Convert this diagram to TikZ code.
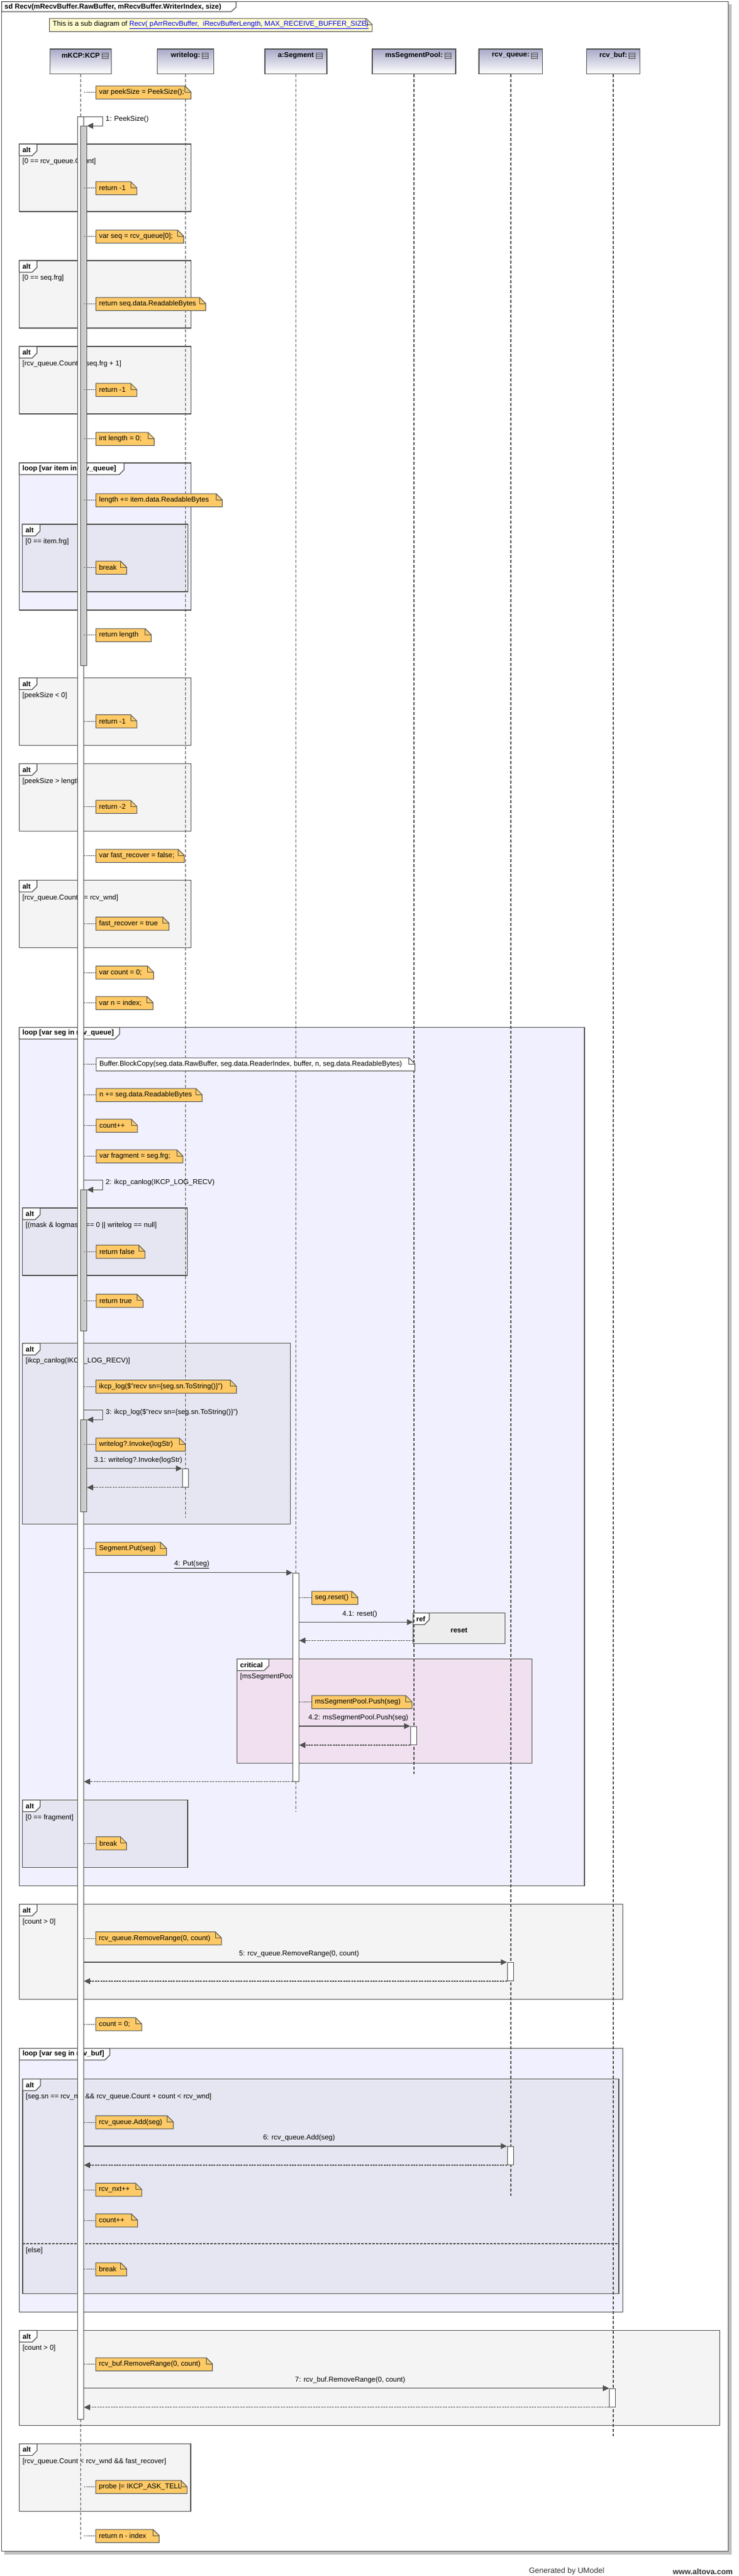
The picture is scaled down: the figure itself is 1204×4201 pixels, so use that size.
\documentclass[tikz,border=0pt]{standalone}
\usepackage{fontspec}
\setmainfont{Liberation Sans}
\usetikzlibrary{arrows.meta,calc,fit}

\definecolor{umlline}{HTML}{505050}
\definecolor{altfill}{HTML}{F4F4F4}
\definecolor{loopfill}{HTML}{F0F0FF}
\definecolor{innerfill}{HTML}{E6E6F2}
\definecolor{critfill}{HTML}{F0E0F0}
\definecolor{reffill}{HTML}{EDEDED}
\definecolor{notefill}{HTML}{FFC966}
\definecolor{hintfill}{HTML}{FFFBCC}
\definecolor{headtop}{HTML}{A9A9C9}
\definecolor{bargray}{HTML}{CCCCCC}
\definecolor{shadowgray}{HTML}{C0C0C0}
\definecolor{linkblue}{HTML}{0000FF}

\newcommand{\umlfont}{\fontsize{8.6pt}{10pt}\selectfont}

\tikzset{
  fragline/.style={draw=umlline, line width=0.9pt},
  tabtext/.style={font=\umlfont\bfseries, anchor=west, inner sep=0pt},
  guard/.style={anchor=west, inner sep=0pt},
  head/.style={draw=umlline, line width=0.9pt, top color=headtop, bottom color=white, minimum height=30.2pt, inner sep=0pt},
  headtext/.style={font=\umlfont\bfseries, inner sep=0pt},
  lifeline/.style={draw=umlline, line width=1.3pt, dash pattern=on 4pt off 2pt},
  bar/.style={draw=umlline, line width=0.75pt, fill=white, inner sep=0pt},
  bargrey/.style={bar, fill=bargray},
  notebody/.style={draw=umlline, line width=0.75pt},
  notetext/.style={anchor=west, inner xsep=3.75pt, inner ysep=0pt},
  noteline/.style={draw=umlline, line width=0.6pt, dash pattern=on 2pt off 0.8pt},
  msg/.style={draw=umlline, line width=0.9pt, -{Triangle[length=7.5pt,width=7pt]}},
  ret/.style={msg, dash pattern=on 2.2pt off 1.1pt},
  msglabel/.style={inner sep=0pt, yshift=10pt, xshift=4.5pt},
  selflabel/.style={anchor=west, inner sep=0pt, xshift=3.5pt, yshift=-3.3pt}
}

% box, tab and tab label of a combined fragment
\newcommand{\umlframe}[8]{%
  \filldraw[fragline, fill=#2] (#3,#4) rectangle (#5,#6);
  \filldraw[fragline, fill=white] (#3,#4) -- (#7,#4) -- (#7,{#4+11}) -- ({#7-8},{#4+19}) -- (#3,{#4+19}) -- cycle;
  \node[tabtext] (#1) at ({#3+5},{#4+9.5}) {#8};
}

% note with folded corner
\newcommand{\umlnote}[6][notefill]{%
  \filldraw[notebody, fill=#1] (#3,#4) -- ({#5-10},#4) -- (#5,{#4+10}) -- (#5,{#4+21.5}) -- (#3,{#4+21.5}) -- cycle;
  \draw[notebody] ({#5-10},#4) |- (#5,{#4+10});
  \node[notetext] (#2) at (#3,{#4+10.75}) {#6};
}

\begin{document}
\begin{tikzpicture}[x=0.75pt, y=-0.75pt, font=\umlfont]
\useasboundingbox (0,0) rectangle (1204,4201);

\fill[shadowgray] (7,7) rectangle (1193,4166);
\filldraw[fragline, fill=white] (2.7,2.7) rectangle (1187.3,4160.2);
\filldraw[fragline, fill=white] (2.7,2.7) -- (385,2.7) -- (385,11.5) -- (377,19) -- (2.7,19) -- cycle;
\node[tabtext] (title) at (7.2,11.3) {sd Recv(mRecvBuffer.RawBuffer, mRecvBuffer.WriterIndex, size)};

\umlnote[hintfill]{hint}{80.6}{30}{606.8}{This is a sub diagram of {\color{linkblue}\underline{Recv(\ pArrRecvBuffer,\ \ iRecvBufferLength, MAX\_RECEIVE\_BUFFER\_SIZE)}}}

\umlframe{a1}{altfill}{31.3}{235}{311.7}{345}{60.3}{alt}
\node[guard] (g1) at (36.3,264) {[0 == rcv\_queue.Count]};
\umlframe{a2}{altfill}{31.3}{425}{311.7}{535}{60.3}{alt}
\node[guard] (g2) at (36.3,454) {[0 == seq.frg]};
\umlframe{a3}{altfill}{31.3}{565}{311.7}{675}{60.3}{alt}
\node[guard] (g3) at (36.3,594) {[rcv\_queue.Count < seq.frg + 1]};
\umlframe{l1}{loopfill}{31.3}{755}{311.7}{995}{202.3}{loop [var item in rcv\_queue]}
\umlframe{a4}{innerfill}{36.3}{855}{306.7}{965}{65.3}{alt}
\node[guard] (g4) at (41.3,884) {[0 == item.frg]};
\umlframe{a5}{altfill}{31.3}{1105.5}{311.7}{1215.4}{60.3}{alt}
\node[guard] (g5) at (36.3,1134.5) {[peekSize < 0]};
\umlframe{a6}{altfill}{31.3}{1245.4}{311.7}{1355.3}{60.3}{alt}
\node[guard] (g6) at (36.3,1274.4) {[peekSize > length]};
\umlframe{a7}{altfill}{31.3}{1435.6}{311.7}{1545.4}{60.3}{alt}
\node[guard] (g7) at (36.3,1464.6) {[rcv\_queue.Count >= rcv\_wnd]};
\umlframe{l2}{loopfill}{31.3}{1675.4}{953}{3075.4}{195}{loop [var seg in rcv\_queue]}
\umlframe{a8}{innerfill}{36.7}{1970}{305.6}{2080}{65.5}{alt}
\node[guard] (g8) at (41.7,1999) {[(mask \& logmask) == 0 || writelog == null]};
\umlframe{a9}{innerfill}{36.7}{2190.7}{473.7}{2485.3}{65.5}{alt}
\node[guard] (g9) at (41.7,2219.7) {[ikcp\_canlog(IKCP\_LOG\_RECV)]};
\umlframe{r1}{reffill}{673.6}{2630.4}{823.6}{2680.4}{700}{ref}
\node[headtext] (reset) at (748.6,2659) {reset};
\coordinate (refin) at (673.6,2645.4);
\coordinate (refout) at (673.6,2675.4);
\umlframe{c1}{critfill}{386.4}{2705.4}{867.7}{2875.4}{438.5}{critical}
\node[guard] (gc1) at (391.4,2734.4) {[msSegmentPool]};
\umlframe{a10}{innerfill}{36.7}{2935.4}{306}{3045.4}{65.5}{alt}
\node[guard] (g10) at (41.7,2964.4) {[0 == fragment]};
\umlframe{a11}{altfill}{31.5}{3105.4}{1015.4}{3260.4}{60.5}{alt}
\node[guard] (g11) at (36.5,3134.4) {[count > 0]};
\umlframe{l3}{loopfill}{31.5}{3340.4}{1015.4}{3770.4}{179}{loop [var seg in rcv\_buf]}
\umlframe{a12}{innerfill}{36.9}{3390.4}{1009}{3740.4}{66}{alt}
\node[guard] (g12) at (41.9,3419.4) {[seg.sn == rcv\_nxt \&\& rcv\_queue.Count + count < rcv\_wnd]};
\draw[fragline, line width=1.3pt, dash pattern=on 3pt off 1.5pt] (36.9,3659.3) -- (1009,3659.3);
\node[guard] (gelse) at (41.9,3670) {[else]};
\umlframe{a13}{altfill}{31.5}{3800.4}{1173.6}{3955.3}{60.5}{alt}
\node[guard] (g13) at (36.5,3829.4) {[count > 0]};
\umlframe{a14}{altfill}{31.5}{3985.3}{311}{4095.4}{60.5}{alt}
\node[guard] (g14) at (36.5,4014.3) {[rcv\_queue.Count < rcv\_wnd \&\& fast\_recover]};

\foreach \n/\x/\w/\e/\t in {K/131.5/100.4/4140.6/mKCP:KCP, W/302.5/92.4/2475.3/writelog:, S/482.5/101/2955/a:Segment, P/675/136/2893/msSegmentPool:, Q/832.8/103.7/3581/rcv\_queue:, B/1000/87.4/3972.7/rcv\_buf:} {
  \node[head, minimum width=\w*0.75pt] (h\n) at (\x,100.15) {};
  \node[headtext] (t\n) at (\x,90.5) {\t};
  \draw[umlline, line width=0.6pt] ($(t\n.east)+(3,-4.5)$) rectangle ++(10,9) ($(t\n.east)+(3,-1.5)$) -- ++(10,0) ($(t\n.east)+(3,1.5)$) -- ++(10,0);
  \coordinate (e\n) at (\x,\e);
  \draw[lifeline] (h\n.south) -- (e\n);
}

\node[bar, fit={(126.3,190.7) (136.3,3945.3)}] (actK) {};
\node[bargrey, fit={(131.3,205.7) (141.3,1085)}] (actG1) {};
\node[bargrey, fit={(131.3,1940.7) (141.3,2170)}] (actG2) {};
\node[bargrey, fit={(131.3,2315.7) (141.3,2465.3)}] (actG3) {};
\node[bar, fit={(297.3,2395.3) (307.3,2425.3)}] (actW) {};
\node[bar, fit={(477.3,2565.3) (487.3,2905)}] (actS) {};
\node[bar, fit={(669.3,2815.4) (679.3,2845.4)}] (actP) {};
\node[bar, fit={(827,3200.4) (837,3230.4)}] (actQ1) {};
\node[bar, fit={(827,3500.4) (837,3530.4)}] (actQ2) {};
\node[bar, fit={(993.7,3895.3) (1003.7,3925.3)}] (actB) {};

\umlnote{n0}{156.3}{140}{311.3}{var peekSize = PeekSize();}
\umlnote{n1}{156.3}{296}{223}{return -1}
\umlnote{n2}{156.3}{375}{299.3}{var seq = rcv\_queue[0];}
\umlnote{n3}{156.3}{485}{335.3}{return seq.data.ReadableBytes}
\umlnote{n4}{156.3}{625}{223}{return -1}
\umlnote{n5}{156.3}{705}{251.3}{int length = 0;}
\umlnote{n6}{156.3}{805}{362.3}{length += item.data.ReadableBytes}
\umlnote{n7}{156.3}{915}{206.7}{break}
\umlnote{n8}{156.3}{1025}{246.7}{return length}
\umlnote{n9}{156.3}{1165.5}{223}{return -1}
\umlnote{n10}{156.3}{1305}{223}{return -2}
\umlnote{n11}{156.3}{1385}{300.7}{var fast\_recover = false;}
\umlnote{n12}{156.3}{1495.5}{275.7}{fast\_recover = true}
\umlnote{n13}{156.3}{1575.4}{250.7}{var count = 0;}
\umlnote{n14}{156.3}{1625}{249.7}{var n = index;}
\umlnote[white]{n15}{156.8}{1725}{676.7}{Buffer.BlockCopy(seg.data.RawBuffer, seg.data.ReaderIndex, buffer, n, seg.data.ReadableBytes)}
\umlnote{n16}{156.8}{1775}{329.5}{n += seg.data.ReadableBytes}
\umlnote{n17}{156.8}{1825}{224}{count++}
\umlnote{n18}{156.8}{1875}{298.2}{var fragment = seg.frg;}
\umlnote{n19}{156.8}{2030.7}{236.4}{return false}
\umlnote{n20}{156.8}{2110.7}{233.3}{return true}
\umlnote{n21}{156.3}{2250.7}{385.7}{ikcp\_log(\$"recv sn=\{seg.sn.ToString()\}")}
\umlnote{n22}{156.3}{2345}{302.3}{writelog?.Invoke(logStr)}
\umlnote{n23}{156.3}{2515}{271.7}{Segment.Put(seg)}
\umlnote{n24}{508.3}{2595}{583.6}{seg.reset()}
\umlnote{n25}{508.3}{2765}{671.8}{msSegmentPool.Push(seg)}
\umlnote{n26}{156.8}{2995.4}{206.4}{break}
\umlnote{n27}{156}{3150.4}{361}{rcv\_queue.RemoveRange(0, count)}
\umlnote{n28}{156}{3290.4}{231.2}{count = 0;}
\umlnote{n29}{156}{3450.4}{282.6}{rcv\_queue.Add(seg)}
\umlnote{n30}{156}{3560.4}{231.2}{rcv\_nxt++}
\umlnote{n31}{156}{3610.4}{224.3}{count++}
\umlnote{n32}{156}{3690}{206.6}{break}
\umlnote{n33}{156}{3845}{346.4}{rcv\_buf.RemoveRange(0, count)}
\umlnote{n34}{156}{4045}{305}{probe |= IKCP\_ASK\_TELL}
\umlnote{n35}{156}{4125}{259.6}{return n - index}

\foreach \k in {0,...,23} \draw[noteline] (actK.east |- n\k.west) -- (n\k.west);
\foreach \k in {26,...,35} \draw[noteline] (actK.east |- n\k.west) -- (n\k.west);
\foreach \k in {24,25} \draw[noteline] (actS.east |- n\k.west) -- (n\k.west);

\draw[msg] (actK.north east) -- ++(30.4,0) node[selflabel] {1: PeekSize()} |- (actG1.north east);
\draw[msg] ($(actG2.north east)+(-5,-15.7)$) -- ++(30.3,0) node[selflabel] {2: ikcp\_canlog(IKCP\_LOG\_RECV)} |- (actG2.north east);
\draw[msg] ($(actG3.north east)+(-5,-15.7)$) -- ++(30.4,0) node[selflabel] {3: ikcp\_log(\$"recv sn=\{seg.sn.ToString()\}")} |- (actG3.north east);
\draw[msg] (actG3.east |- actW.north west) -- (actW.north west) node[midway, msglabel] {3.1: writelog?.Invoke(logStr)};
\draw[ret] (actW.south west) -- (actG3.east |- actW.south west);
\draw[msg] (actK.east |- actS.north west) -- (actS.north west) node[midway, msglabel] {\underline{4: Put(seg)}};
\draw[msg] (actS.east |- refin) -- (refin) node[midway, msglabel] {4.1: reset()};
\draw[ret] (refout) -- (actS.east |- refout);
\draw[msg] (actS.east |- actP.north west) -- (actP.north west) node[midway, msglabel] {4.2: msSegmentPool.Push(seg)};
\draw[ret] (actP.south west) -- (actS.east |- actP.south west);
\draw[ret] (actS.south west) -- (actK.east |- actS.south west);
\draw[msg] (actK.east |- actQ1.north west) -- (actQ1.north west) node[midway, msglabel] {5: rcv\_queue.RemoveRange(0, count)};
\draw[ret] (actQ1.south west) -- (actK.east |- actQ1.south west);
\draw[msg] (actK.east |- actQ2.north west) -- (actQ2.north west) node[midway, msglabel] {6: rcv\_queue.Add(seg)};
\draw[ret] (actQ2.south west) -- (actK.east |- actQ2.south west);
\draw[msg] (actK.east |- actB.north west) -- (actB.north west) node[midway, msglabel] {7: rcv\_buf.RemoveRange(0, count)};
\draw[ret] (actB.south west) -- (actK.east |- actB.south west);

\node[font=\fontsize{9.4pt}{11pt}\selectfont, text=black!80] (gen) at (924,4193.5) {Generated by UModel};
\node[font=\fontsize{9.4pt}{11pt}\selectfont\bfseries, text=black!80] (www) at (1146,4193.5) {www.altova.com};
\end{tikzpicture}
\end{document}
